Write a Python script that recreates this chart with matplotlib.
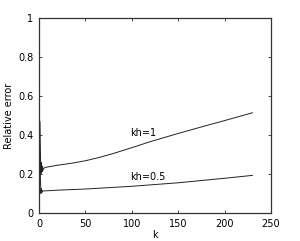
import matplotlib
matplotlib.use("Agg")
import matplotlib.pyplot as plt

k_upper = [0.3, 0.8, 1.2, 1.6, 2.0, 2.5, 3.0, 3.5, 4.0, 5.0, 8, 20, 35, 50, 65, 80, 100, 120, 150, 180, 200, 230]
err_upper = [0.25, 0.47, 0.40, 0.30, 0.20, 0.26, 0.21, 0.24, 0.215, 0.23, 0.235, 0.245, 0.255, 0.268, 0.285, 0.305, 0.335, 0.366, 0.408, 0.448, 0.474, 0.514]
k_lower = [0.3, 0.8, 1.3, 2.0, 2.6, 3.2, 4.0, 5.0, 20, 50, 100, 150, 200, 230]
err_lower = [0.18, 0.30, 0.22, 0.10, 0.125, 0.105, 0.115, 0.113, 0.117, 0.123, 0.137, 0.155, 0.178, 0.193]
xticks = [0, 50, 100, 150, 200, 250]
yticks = [0, 0.2, 0.4, 0.6, 0.8, 1]
ytick_labels = ["0", "0.2", "0.4", "0.6", "0.8", "1"]

fig = plt.figure(figsize=(3.0, 2.41), dpi=100)
ax = fig.add_axes([39/300, 1 - 213/241, 232/300, 195/241])
ax.plot(k_upper, err_upper, color="#222222", lw=0.7)
ax.plot(k_lower, err_lower, color="#222222", lw=0.7)
ax.set_xlim(0, 250)
ax.set_ylim(0, 1)
ax.set_xticks(xticks)
ax.set_xticklabels([str(t) for t in xticks])
ax.set_yticks(yticks)
ax.set_yticklabels(ytick_labels)
ax.tick_params(direction="in", length=2, width=0.5, labelsize=7, top=True, right=True, pad=4)
for s in ax.spines.values():
    s.set_linewidth(0.9)
    s.set_color("#333333")
ax.set_xlabel("k", fontsize=7, labelpad=1)
ax.set_ylabel("Relative error", fontsize=7, labelpad=3)
ax.text(98, 0.41, "kh=1", fontsize=7, va="center", ha="left")
ax.text(98, 0.185, "kh=0.5", fontsize=7, va="center", ha="left")
fig.savefig("out.png", dpi=100)
